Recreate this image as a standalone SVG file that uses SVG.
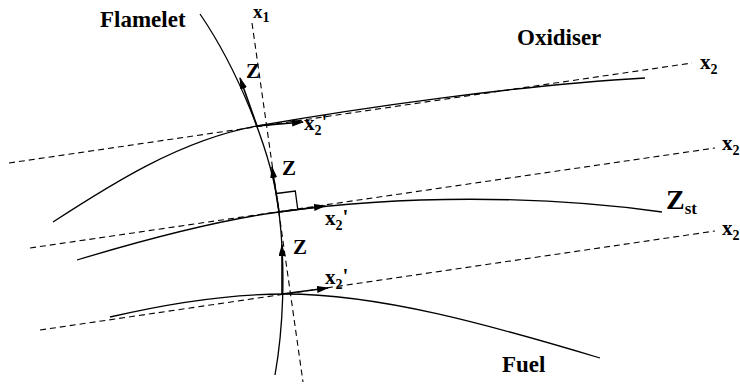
<svg xmlns="http://www.w3.org/2000/svg" width="740" height="390" viewBox="0 0 740 390">
<style>
.curve{fill:none;stroke:#000;stroke-width:1.3}
.dash{fill:none;stroke:#000;stroke-width:1.1;stroke-dasharray:6 4}
.arr{fill:none;stroke:#000;stroke-width:1.6;marker-end:url(#ah)}
.big{font-size:23px}
.ax{font-size:21px}
.sub{font-size:14px}
</style>
<defs>
<marker id="ah" markerUnits="userSpaceOnUse" markerWidth="12" markerHeight="8" refX="11" refY="3.5" orient="auto">
<path d="M0,0 L12,3.5 L0,7 z" fill="#000"/>
</marker>
</defs>
<rect width="740" height="390" fill="#fff"/>
<g id="axes">
<line class="dash" x1="252" y1="23" x2="303" y2="382"/>
<line class="dash" x1="9" y1="163" x2="692" y2="63"/>
<line class="dash" x1="30" y1="248" x2="715" y2="148"/>
<line class="dash" x1="40" y1="330" x2="715" y2="231"/>
</g>
<g id="flamelet">
<path class="curve" d="M200,14 C235,65 272,150 279,212 C286,270 283,330 275,375"/>
</g>
<g id="isoline-top">
<path class="curve" d="M53,222 C110,185 180,140 257,126 C360,108 520,85 645,78"/>
</g>
<g id="isoline-st">
<path class="curve" d="M77,260 C150,238 220,220 279,212 C400,195 540,195 662,212"/>
</g>
<g id="isoline-bottom">
<path class="curve" d="M110,317 C170,303 230,294 285,294 C380,294 490,325 600,358"/>
</g>
<g id="connectors">
<line class="arr" x1="257" y1="126" x2="240" y2="78"/>
<line class="arr" x1="279" y1="212" x2="272" y2="167"/>
<line class="arr" x1="282" y1="294" x2="282" y2="245"/>
<line class="arr" x1="257" y1="126" x2="303" y2="122"/>
<line class="arr" x1="279" y1="212" x2="325" y2="206"/>
<line class="arr" x1="282" y1="294" x2="328" y2="288"/>
<polyline class="curve" points="276.3,193.5 295.3,191 297.8,209.6"/>
</g>
<g id="labels" font-family="Liberation Serif, DejaVu Serif, Noto Serif, serif" font-weight="bold" fill="#000">
<text class="big" x="100" y="27">Flamelet</text>
<text class="big" x="517" y="45">Oxidiser</text>
<text class="big" x="502" y="372">Fuel</text>
<text font-size="19" x="253" y="18">x<tspan class="sub" dy="4">1</tspan></text>
<text class="ax" x="700" y="69">x<tspan class="sub" dy="5">2</tspan></text>
<text class="ax" x="722" y="150">x<tspan class="sub" dy="5">2</tspan></text>
<text class="ax" x="722" y="235">x<tspan class="sub" dy="5">2</tspan></text>
<text class="ax" x="304" y="130">x<tspan class="sub" dy="5">2</tspan><tspan dy="-6">'</tspan></text>
<text class="ax" x="325" y="225">x<tspan class="sub" dy="5">2</tspan><tspan dy="-6">'</tspan></text>
<text class="ax" x="325" y="284">x<tspan class="sub" dy="5">2</tspan><tspan dy="-6">'</tspan></text>
<text font-size="21" x="246" y="78">Z</text>
<text font-size="21" x="282" y="175">Z</text>
<text font-size="21" x="293" y="254">Z</text>
<text font-size="28" x="666" y="209">Z<tspan font-size="17" dy="5">st</tspan></text>
</g>
</svg>
